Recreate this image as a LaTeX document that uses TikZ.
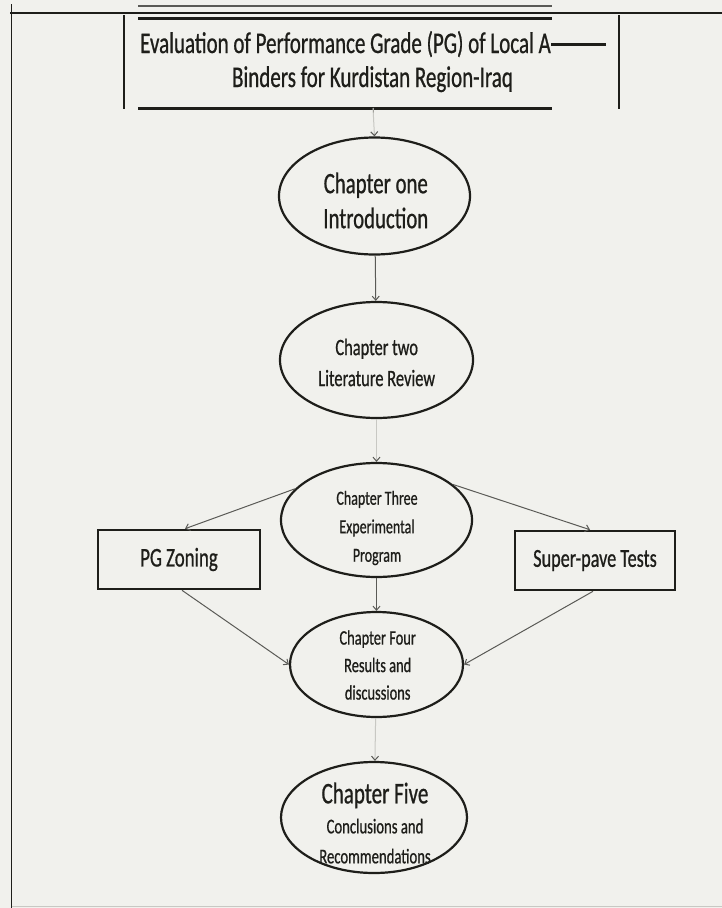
\documentclass[tikz,border=0pt]{standalone}
\usepackage{fontspec}
\setmainfont[FakeStretch=0.7,FakeBold=0.7]{Carlito}
\usetikzlibrary{shapes.geometric,arrows.meta,calc}
\definecolor{bg}{RGB}{241,241,237}
\definecolor{ink}{RGB}{30,30,26}
\definecolor{conn}{RGB}{90,90,86}
\definecolor{faint}{RGB}{200,200,195}
\begin{document}
\begin{tikzpicture}[x=1pt,y=-1pt,
  chap/.style={ellipse, draw=ink, line width=2.2pt, inner sep=0pt},
  boxnode/.style={rectangle, draw=ink, line width=2.6pt, inner sep=0pt, text=ink},
  txt/.style={align=center, text=ink, inner sep=0pt},
  conn/.style={draw=conn, line width=1pt, -{Straight Barb[length=4pt,width=7pt]}},
  faintconn/.style={draw=faint, line width=1pt, -{Straight Barb[length=4pt,width=7pt,color=conn]}},
  rulethick/.style={draw=ink, line width=3pt},
  rulethin/.style={draw=ink, line width=1.8pt},
]
\fill[bg] (0,0) rectangle (722,908);
\useasboundingbox (0,0) rectangle (722,908);

% outer frame
\draw[rulethin] (10,12.7) -- (722,12.7);
\draw[rulethin] (11.5,4) -- (11.5,908);
\draw[draw=faint, line width=1pt] (11.5,906) -- (722,906);

% title block
\draw[draw=conn, line width=1.2pt] (138,6) -- (552,6);
\draw[rulethick] (138,18) -- (552,18);
\draw[rulethick] (138,108) -- (552,108);
\draw[rulethin] (124,15) -- (124,109);
\draw[rulethin] (619,15) -- (619,109);
\node[txt, anchor=base, font=\fontsize{30}{36}\selectfont] (title1) at (345.5,53) {Evaluation of Performance Grade (PG) of Local A};
\node[txt, anchor=base, font=\fontsize{30}{36}\selectfont] (title2) at (372.5,87) {Binders for Kurdistan Region-Iraq};
\draw[rulethick, line width=3.2pt] (title1.east) -- ++(55,0);

% chapters
\node[chap, minimum width=191pt, minimum height=117pt] (ch1) at (374.5,196) {};
\node[txt, font=\fontsize{29.7}{35}\selectfont] (ch1t) at (375.8,200.5) {Chapter one\\Introduction};

\node[chap, minimum width=193pt, minimum height=116pt] (ch2) at (376.5,360) {};
\node[txt, font=\fontsize{23.5}{31}\selectfont] (ch2t) at (376.7,362.5) {Chapter two\\Literature Review};

\node[chap, minimum width=191pt, minimum height=114pt] (ch3) at (376.5,520) {};
\node[txt, font=\fontsize{20}{28.5}\selectfont] (ch3t) at (377,528) {Chapter Three\\Experimental\\Program};

\node[chap, minimum width=173pt, minimum height=105pt] (ch4) at (376.5,664.5) {};
\node[txt, font=\fontsize{20.6}{27.5}\selectfont] (ch4t) at (377.7,665) {Chapter Four\\Results and\\discussions};

\node[chap, minimum width=186pt, minimum height=111pt] (ch5) at (374,817.5) {};
\node[txt, font=\fontsize{21}{30}\selectfont] (ch5t) at (375,823) {{\fontsize{30}{33}\selectfont Chapter Five}\\Conclusions and\\Recommendations};

% side boxes
\node[boxnode, minimum width=162pt, minimum height=59pt, font=\fontsize{27}{30}\selectfont] (pg) at (179,559.5) {PG Zoning};
\node[boxnode, minimum width=160pt, minimum height=59pt, font=\fontsize{26}{30}\selectfont] (super) at (595,560.5) {Super-pave Tests};

% connectors
\coordinate (tb) at (373,108);
\draw[draw=conn, line width=1pt] (tb) -- ++(0,8);
\draw[faintconn] (tb) -- (ch1.north);
\draw[conn] (ch1) -- (ch2);
\draw[faintconn] (ch2) -- (ch3);
\draw[conn] (ch3.159) -- ($(pg.north)+(6,0)$);
\draw[conn] (ch3.25) -- ($(super.north)+(-5,0)$);
\draw[conn] (ch3) -- (ch4);
\draw[conn] ($(pg.south)+(3,0)$) -- (ch4.west);
\draw[conn] ($(super.south)+(-2,0)$) -- (ch4.east);
\draw[faintconn] (ch4) -- (ch5);
\end{tikzpicture}
\end{document}
